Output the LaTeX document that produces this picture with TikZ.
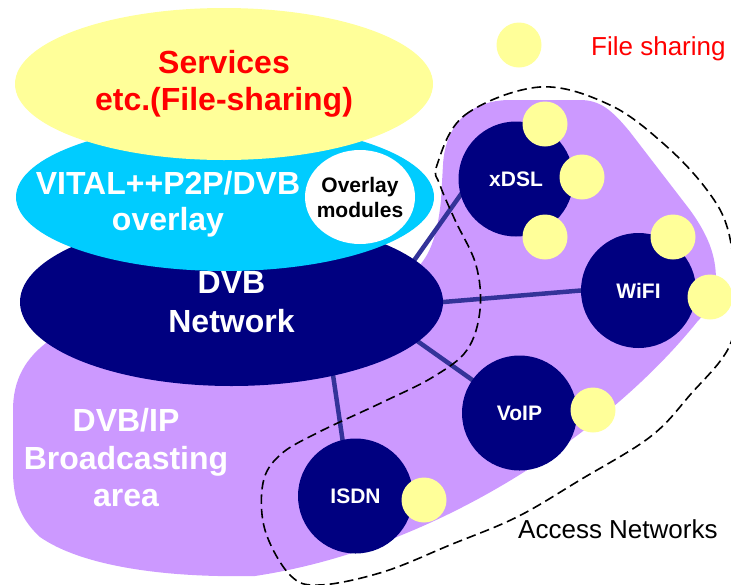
\documentclass[tikz,border=0pt]{standalone}
\usepackage{fontspec}
\setmainfont{Liberation Sans}
\usetikzlibrary{shapes.geometric}
\pgfdeclarelayer{back}
\pgfdeclarelayer{links}
\pgfsetlayers{back,links,main}
\definecolor{paleyellow}{HTML}{FFFF99}
\definecolor{overlaycyan}{HTML}{00CCFF}
\definecolor{netnavy}{HTML}{000080}
\definecolor{areapurple}{HTML}{CC99FF}
\definecolor{linkblue}{HTML}{333399}

\begin{document}
\begin{tikzpicture}[x=1pt,y=-1pt,
  blob/.style={ellipse, inner sep=0pt, draw=none},
  bigtext/.style={font=\bfseries\fontsize{32}{37.5}\selectfont, align=center, inner sep=0pt},
  smalltext/.style={font=\bfseries\fontsize{21}{25}\selectfont, align=center, inner sep=0pt},
  accnet/.style={circle, fill=netnavy, minimum size=115pt, inner sep=0pt, text=white,
                 font=\bfseries\fontsize{21}{25}\selectfont},
  peer/.style={circle, fill=paleyellow, minimum size=45pt, inner sep=0pt},
  link/.style={draw=linkblue, line width=4.5pt, shorten <=-4pt, shorten >=-4pt},
  border/.style={draw=black, line width=1.6pt, dash pattern=on 9.5pt off 5pt}
]
\useasboundingbox (0,0) rectangle (731,584);

% broadcasting area together with the access-network lobe
\begin{pgfonlayer}{back}
\fill[areapurple] (13,470) -- (13,410)
  .. controls (13,380) and (25,358) .. (50,340)
  -- (120,300) -- (400,285) -- (415,270)
  .. controls (428,258) and (437,240) .. (441,200)
  -- (443,165)
  .. controls (445,125) and (470,100) .. (510,100)
  -- (580,100)
  .. controls (600,100) and (612,110) .. (630,132)
  -- (690,210)
  .. controls (708,235) and (716,255) .. (716,280)
  .. controls (716,298) and (710,308) .. (697,322)
  .. controls (610,430) and (440,548) .. (255,576)
  .. controls (160,578) and (80,565) .. (40,537)
  .. controls (18,517) and (13,495) .. (13,470) -- cycle;
\end{pgfonlayer}

% layered stack
\node[blob, fill=netnavy, minimum width=423pt, minimum height=168pt,
      bigtext, text=white, font=\bfseries\fontsize{32}{38.5}\selectfont] (dvb) at (231.5,302) {DVB\\Network};
\node[blob, fill=overlaycyan, minimum width=418pt, minimum height=148pt] (ovl) at (225,197) {};
\node[bigtext, text=white, font=\bfseries\fontsize{32}{35.5}\selectfont] (ovltitle) at (168,204) {VITAL++P2P/DVB\\overlay};
\node[blob, fill=white, minimum width=110pt, minimum height=94pt] (mod) at (360,197) {};
\node[smalltext] (modtext) at (mod.center) {Overlay\\modules};
\node[blob, fill=paleyellow, minimum width=418pt, minimum height=152pt,
      bigtext, text=red] (svc) at (224,84) {Services\\etc.(File-sharing)};

\node[bigtext, text=white] (areatext) at (126,458) {DVB/IP\\Broadcasting\\area};

% access networks
\node[accnet] (xdsl) at (516,179) {xDSL};
\node[accnet] (wifi) at (638.5,290.5) {WiFI};
\node[accnet] (voip) at (519.5,413) {VoIP};
\node[accnet] (isdn) at (355.5,496) {ISDN};

% file-sharing peers
\node[peer] (p1) at (545,124) {};
\node[peer] (p2) at (582,177) {};
\node[peer] (p3) at (545,237) {};
\node[peer] (p4) at (673,237) {};
\node[peer] (p5) at (710,297) {};
\node[peer] (p6) at (593,410) {};
\node[peer] (p7) at (424,500) {};

% links from the DVB network
\begin{pgfonlayer}{links}
\draw[link] (dvb.13.5) -- (xdsl.196.5);
\draw[link] (dvb.0) -- (wifi.180);
\draw[link] (dvb.-12) -- (voip.145);
\draw[link] (dvb.-36.7) -- (isdn.103.5);
\end{pgfonlayer}

% access networks boundary
\draw[border] plot[smooth cycle, tension=0.6] coordinates {
  (437,165) (465,115) (540,87) (610,105) (665,145) (707,190) (728,230)
  (735,290) (730,345) (690,395) (650,437) (580,480) (517,517) (450,545)
  (383,572) (320,585) (290,575) (265,530) (263,483) (280,455) (317,433)
  (383,402) (433,377) (467,350) (480,310) (476,265) (455,220) (440,185)};

% legend and labels
\node[peer] (legend) at (519,45) {};
\node[anchor=base west, inner sep=0pt, text=red, font=\fontsize{26}{30}\selectfont] (fslabel) at (591,55) {File sharing};
\node[anchor=base west, inner sep=0pt, font=\fontsize{26}{30}\selectfont] (aclabel) at (518,538) {Access Networks};
\end{tikzpicture}
\end{document}
